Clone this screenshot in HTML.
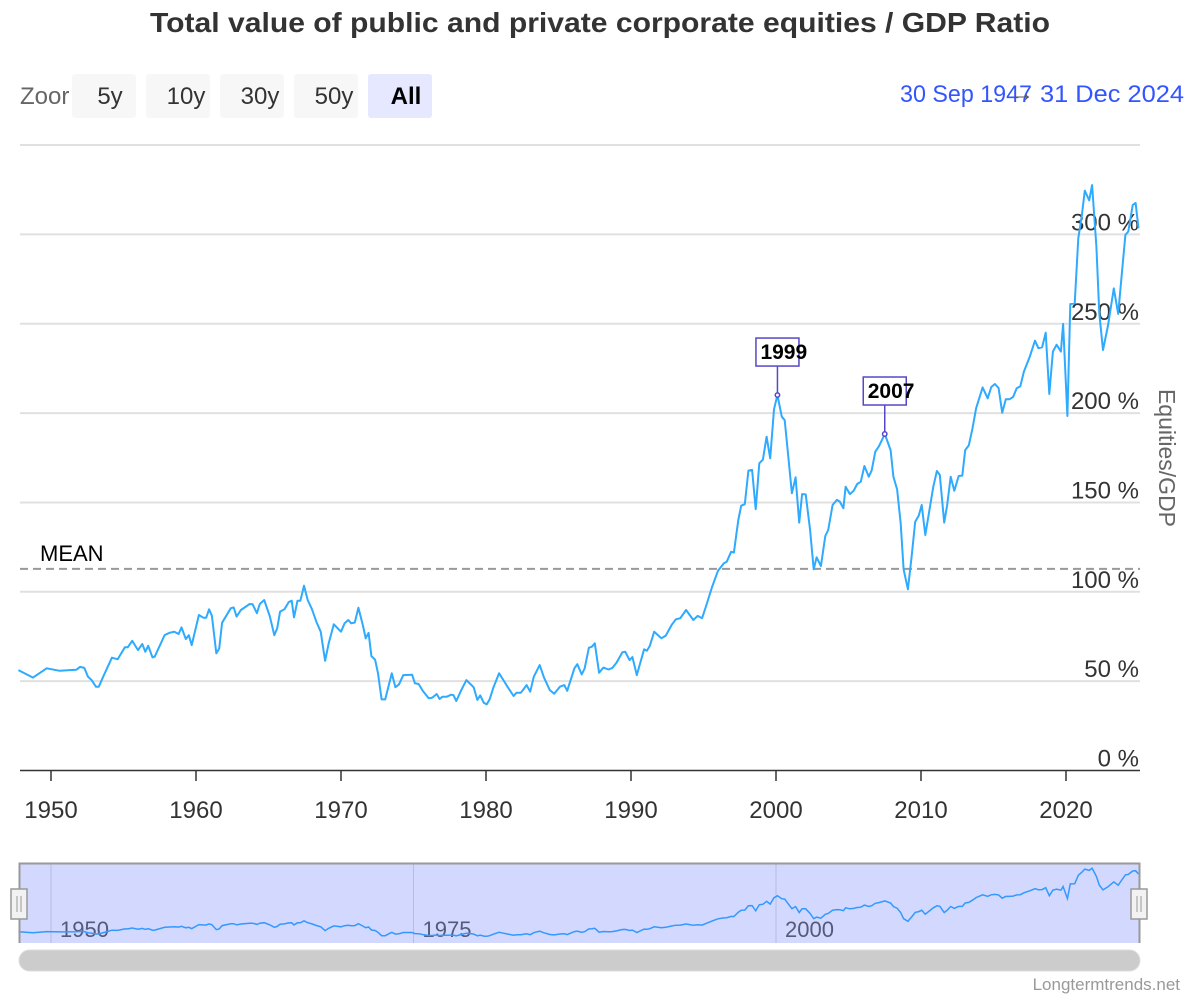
<!DOCTYPE html>
<html><head><meta charset="utf-8">
<style>
html,body{margin:0;padding:0;background:#fff;}
body{width:1200px;height:1000px;overflow:hidden;font-family:"Liberation Sans",Arial,sans-serif;}
svg text{font-family:"Liberation Sans",Arial,sans-serif;}
</style></head>
<body>
<svg id="chart" width="1200" height="1000" viewBox="0 0 1200 1000" xmlns="http://www.w3.org/2000/svg">
<text x="600" y="32" text-anchor="middle" font-size="28" font-weight="bold" fill="#333" textLength="900" lengthAdjust="spacingAndGlyphs">Total value of public and private corporate equities / GDP Ratio</text>
<g>
<text x="20" y="104" font-size="24" fill="#666">Zoor</text>
<g><rect x="72" y="74" width="64" height="44" rx="3" fill="#f7f7f7"/><text x="110" y="104" text-anchor="middle" font-size="24" fill="#333">5y</text></g>
<g><rect x="146" y="74" width="64" height="44" rx="3" fill="#f7f7f7"/><text x="186" y="104" text-anchor="middle" font-size="24" fill="#333">10y</text></g>
<g><rect x="220" y="74" width="64" height="44" rx="3" fill="#f7f7f7"/><text x="260" y="104" text-anchor="middle" font-size="24" fill="#333">30y</text></g>
<g><rect x="294" y="74" width="64" height="44" rx="3" fill="#f7f7f7"/><text x="334" y="104" text-anchor="middle" font-size="24" fill="#333">50y</text></g>
<g><rect x="368" y="74" width="64" height="44" rx="3" fill="#e6e8ff"/><text x="406" y="104" text-anchor="middle" font-size="24" font-weight="bold" fill="#000">All</text></g>
<text x="900" y="102" font-size="24" fill="#3355ff" textLength="132" lengthAdjust="spacingAndGlyphs">30 Sep 1947</text>
<text x="1010" y="101" font-size="24" fill="#555">→</text>
<text x="1184" y="102" text-anchor="end" font-size="24" fill="#3355ff" textLength="144" lengthAdjust="spacingAndGlyphs">31 Dec 2024</text>
</g>
<g id="grid"></g>
<g id="yticks"></g>
<text transform="translate(1159,458) rotate(90)" text-anchor="middle" font-size="23" fill="#666">Equities/GDP</text>
<g id="xaxis"></g>
<line id="meanline" x1="20" x2="1140" stroke="#999" stroke-width="2" stroke-dasharray="8,5"/>
<text id="meanlabel" x="40" font-size="22" fill="#000">MEAN</text>
<path id="series" fill="none" stroke="#2eaaff" stroke-width="2" stroke-linejoin="round"/>
<g id="annotations"></g>
<g>
<rect x="20" y="863" width="1120" height="80" fill="#d3d8ff"/>
<g id="navgrid"></g>
<path id="navseries" fill="none" stroke="#3399ff" stroke-width="1.5"/>
<path d="M19.5,943 V863.5 H1139.5 V943" fill="none" stroke="#999" stroke-width="2"/>
<g><rect x="11" y="889" width="16" height="30" fill="#f2f2f2" stroke="#999" stroke-width="1.5"/><line x1="17" y1="896" x2="17" y2="912" stroke="#999"/><line x1="21" y1="896" x2="21" y2="912" stroke="#999"/></g>
<g><rect x="1131" y="889" width="16" height="30" fill="#f2f2f2" stroke="#999" stroke-width="1.5"/><line x1="1137" y1="896" x2="1137" y2="912" stroke="#999"/><line x1="1141" y1="896" x2="1141" y2="912" stroke="#999"/></g>
</g>
<rect x="19" y="950" width="1121" height="21" rx="10.5" fill="#cccccc" stroke="#ddd"/>
<text x="1180" y="990" text-anchor="end" font-size="17" fill="#999">Longtermtrends.net</text>
</svg>
<script>
const years=[1947.75,1948.76,1949.7,1950.6,1951.75,1952.0,1952.3,1952.55,1952.8,1953.1,1953.3,1953.65,1954.2,1954.6,1955.1,1955.3,1955.6,1956.0,1956.3,1956.5,1956.7,1957.0,1957.15,1957.84,1958.2,1958.5,1958.8,1959.0,1959.3,1959.5,1959.7,1960.2,1960.5,1960.7,1960.9,1961.1,1961.4,1961.6,1961.8,1962.4,1962.6,1962.8,1963.1,1963.7,1963.9,1964.2,1964.4,1964.7,1965.1,1965.4,1965.6,1965.8,1966.1,1966.4,1966.6,1966.76,1967.0,1967.2,1967.45,1967.7,1968.0,1968.3,1968.6,1968.9,1969.15,1969.5,1970.0,1970.25,1970.5,1970.7,1970.95,1971.2,1971.5,1971.7,1971.9,1972.1,1972.35,1972.55,1972.8,1973.05,1973.3,1973.5,1973.75,1974.0,1974.3,1974.9,1975.1,1975.35,1975.65,1976.05,1976.3,1976.6,1976.8,1977.0,1977.3,1977.6,1977.75,1977.95,1978.3,1978.65,1979.0,1979.15,1979.4,1979.6,1979.85,1980.05,1980.25,1980.5,1980.9,1981.2,1981.5,1981.9,1982.1,1982.4,1982.8,1983.05,1983.3,1983.7,1984.0,1984.4,1984.7,1985.1,1985.4,1985.6,1986.1,1986.3,1986.6,1986.8,1987.1,1987.3,1987.5,1987.8,1988.1,1988.45,1988.7,1989.0,1989.4,1989.6,1989.9,1990.1,1990.4,1990.9,1991.1,1991.3,1991.6,1992.1,1992.4,1992.8,1993.1,1993.4,1993.8,1994.05,1994.3,1994.6,1994.9,1995.2,1995.6,1996.0,1996.4,1996.6,1996.9,1997.1,1997.4,1997.6,1997.85,1998.1,1998.35,1998.6,1998.85,1999.1,1999.35,1999.6,1999.86,2000.1,2000.4,2000.6,2000.85,2001.1,2001.35,2001.6,2001.8,2002.05,2002.35,2002.6,2002.8,2003.1,2003.4,2003.6,2003.9,2004.2,2004.4,2004.65,2004.8,2005.1,2005.35,2005.6,2005.85,2006.1,2006.4,2006.6,2006.85,2007.1,2007.5,2007.9,2008.1,2008.35,2008.6,2008.8,2009.1,2009.35,2009.6,2009.85,2010.05,2010.3,2010.85,2011.1,2011.3,2011.6,2011.8,2012.05,2012.3,2012.6,2012.85,2013.05,2013.3,2013.55,2013.8,2014.25,2014.6,2014.85,2015.1,2015.35,2015.6,2015.85,2016.1,2016.35,2016.6,2016.85,2017.1,2017.5,2017.86,2018.1,2018.35,2018.6,2018.85,2019.1,2019.35,2019.65,2019.8,2020.1,2020.3,2020.6,2020.85,2021.1,2021.3,2021.6,2021.8,2022.1,2022.3,2022.55,2022.9,2023.3,2023.6,2023.8,2024.1,2024.3,2024.6,2024.8,2025.0];
const values=[56.2,52,57.2,55.8,56.4,58,57.4,52.5,50.6,46.9,46.9,53.4,63.1,62.2,69,69,72.6,67.4,70.8,66.5,69.8,63.3,63.7,75.8,77.1,77.7,76.4,80.1,73.6,75.7,70.2,87,85.5,85.5,90.2,86.5,65.6,68.2,82.7,90.8,91.2,86.1,89.8,93.2,93,88,93.2,95.4,86.1,75.7,79.6,88.9,90.2,94.3,95,85.7,95,95,103.4,95.4,90.2,83.3,77.7,61.4,71.2,81.8,77.7,82.4,84.2,82.4,82.8,91.1,81.4,74,77,64,62,54.4,39.8,39.8,47.8,54.4,46.6,48.2,53.4,53.6,48.8,48.4,44.5,40.4,40.8,42.8,40,41.3,41.3,42.4,42.2,38.9,45,50.6,47.8,46.5,39.5,42,37.9,37,39.8,46.3,54.4,50.6,46.6,41.7,43.5,43.5,47.8,44.1,52.5,59,52,45,43,46.9,47.8,44.6,57.2,59.5,53.8,57,68.7,69.2,71.2,54.7,57.6,56.5,57.3,60.3,66.1,66.5,61.8,63.5,53.4,67.8,67,69.7,77.7,74,75.5,81.4,84.6,85.2,89.8,87,84.2,86.5,85.2,92.6,102.9,111.8,115.9,116.8,122.4,122,140.2,148.2,149,167.8,168.2,146.2,171.9,174,186.8,174.7,202.1,210.1,198,196,175.6,155.1,164.1,138.7,154.7,154.5,134.6,112.6,119.3,114.4,131.2,134.6,148.6,151.4,150.5,146.7,158.8,154.7,156.5,160.3,161.6,170.4,164.4,168,178.4,181.4,188.3,179.3,164.4,157.3,138.3,112.6,101.4,119.6,139.2,142.7,148.6,131.8,158.8,167.6,165.4,138.7,148.3,164.4,156.6,164.8,165,179.3,181.9,191.5,202.7,214.4,208.3,214.6,216.3,214,200.2,207.7,207.7,209,213.9,215,223.2,231.6,240.5,236.3,236.8,245,210.7,234.4,238.3,234.4,249.9,198.4,261,261.4,297.8,310.9,324.5,319,327.6,293.1,255.8,235.3,249.3,269.8,255.5,273.6,299.7,301.6,316.4,317.6,303.4];
const yTicks=[0,50,100,150,200,250,300,350];
const xTicks=[1950,1960,1970,1980,1990,2000,2010,2020];
const navTicks=[1950,1975,2000];
const meanValue=112.8;
const annoYears=[1999,2007];
const annoX=[2000.1,2007.5];
const annoV=[210.1,188.3];

const NS="http://www.w3.org/2000/svg";
const X=t=>51+(t-1950)*14.5;
const Y=v=>770.5-v*1.787;
const NY=v=>945-v*0.234;
function mk(tag,attrs,parent){const e=document.createElementNS(NS,tag);for(const k in attrs)e.setAttribute(k,attrs[k]);parent.appendChild(e);return e;}
const grid=document.getElementById('grid'),yt=document.getElementById('yticks'),xa=document.getElementById('xaxis');
yTicks.forEach(v=>{
  if(v>0){const l=mk('line',{x1:20,x2:1140,y1:Y(v),y2:Y(v),stroke:'#e0e0e0','stroke-width':2},grid);
  
  }
  if(v<350){const t=mk('text',{x:1139,y:Y(v)-4,'text-anchor':'end','font-size':24,fill:'#333'},yt);t.textContent=v+' %';
  
  }
});
const ax=mk('line',{x1:20,x2:1140,y1:770.5,y2:770.5,stroke:'#333','stroke-width':1.5},xa);


xTicks.forEach(t=>{
  mk('line',{x1:X(t),x2:X(t),y1:771,y2:781,stroke:'#333','stroke-width':1.5},xa);
  const tx=mk('text',{x:X(t),y:818,'text-anchor':'middle','font-size':24,fill:'#333'},xa);tx.textContent=t;
  
  
});
const ml=document.getElementById('meanline');ml.setAttribute('y1',Y(meanValue));ml.setAttribute('y2',Y(meanValue));
document.getElementById('meanlabel').setAttribute('y',Y(meanValue)-8);
let d='',nd='';
years.forEach((t,i)=>{d+=(i?'L':'M')+X(t).toFixed(1)+','+Y(values[i]).toFixed(1);nd+=(i?'L':'M')+X(t).toFixed(1)+','+NY(values[i]).toFixed(1);});
document.getElementById('series').setAttribute('d',d);
document.getElementById('navseries').setAttribute('d',nd);
const ng=document.getElementById('navgrid');
navTicks.forEach(t=>{
  mk('line',{x1:X(t),x2:X(t),y1:863,y2:943,stroke:'#b8bde0','stroke-width':1},ng);
  const tx=mk('text',{x:X(t)+9,y:937,'font-size':22,fill:'#555a7a'},ng);tx.textContent=t;
  
  
});
const an=document.getElementById('annotations');
annoYears.forEach((yr,i)=>{
  const px=X(annoX[i]),py=Y(annoV[i]);
  const g=mk('g',{},an);
  
  
  mk('line',{x1:px,x2:px,y1:py,y2:py-29,stroke:'#5548c8','stroke-width':1.5},g);
  mk('rect',{x:px-21.5,y:py-57,width:43,height:28,fill:'#fff',stroke:'#5548c8','stroke-width':1.5},g);
  mk('circle',{cx:px,cy:py,r:2.2,fill:'#fff',stroke:'#5548c8','stroke-width':1.5},g);
  const t=mk('text',{x:px-17,y:py-36,'font-size':21,'font-weight':'bold',fill:'#000'},g);t.textContent=yr;
});
</script>
</body></html>
